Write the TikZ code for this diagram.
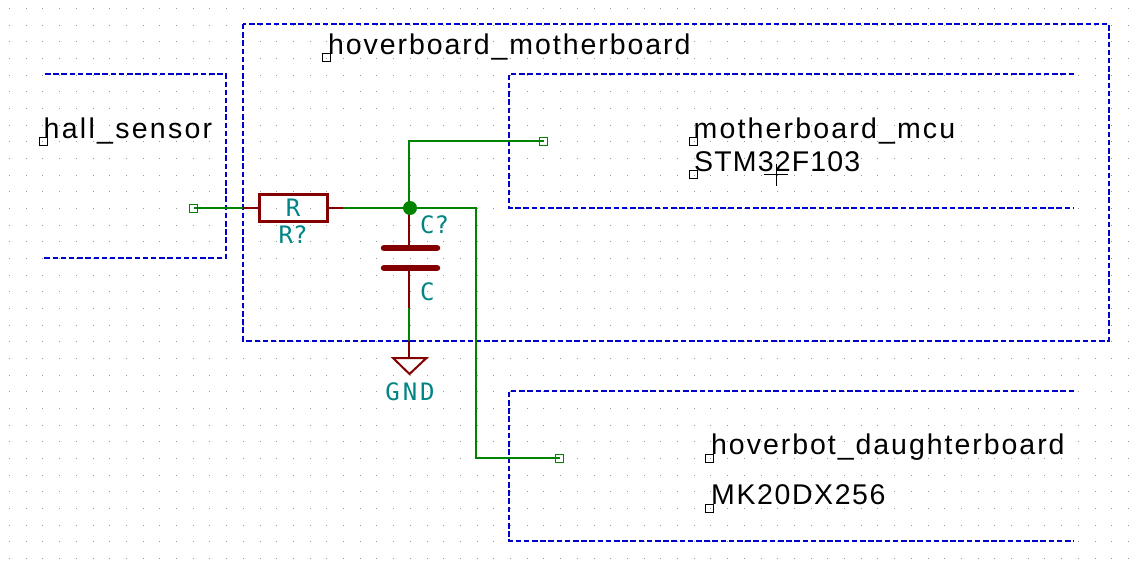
\documentclass[tikz,border=0pt]{standalone}
\usepackage{fontspec}
\newfontfamily\kisheetfont{Liberation Sans}
\newfontfamily\kifont{DejaVu Sans Mono}
\newfontfamily\kigndfont[LetterSpace=12]{DejaVu Sans Mono}
\newcommand{\sheetspaced}[2]{\addfontfeature{LetterSpace=#1}#2}
\definecolor{wirecol}{RGB}{0,132,0}
\definecolor{compcol}{RGB}{132,0,0}
\definecolor{sheetcol}{RGB}{0,0,200}
\definecolor{labcol}{RGB}{0,132,132}
\definecolor{dotcol}{RGB}{150,150,150}
\tikzset{
  sheetline/.style={draw=sheetcol,line width=2pt,dash pattern=on 5.5pt off 2.7pt},
  wire/.style={draw=wirecol,line width=2pt},
  compline/.style={draw=compcol,line width=2pt},
  pinbox/.style={draw=wirecol,line width=1pt,fill=white,minimum size=8pt,inner sep=0pt,rectangle},
  anchorbox/.style={draw=black,line width=1pt,minimum size=8pt,inner sep=0pt,rectangle},
  sheettext/.style={inner sep=0pt,anchor=base west,font=\kisheetfont\fontsize{28.5}{30}\selectfont,text=black},
  reflabel/.style={inner sep=0pt,font=\kifont\fontsize{24}{26}\selectfont,text=labcol},
  griddot/.style={fill=dotcol,draw=none}
}
\begin{document}
\begin{tikzpicture}[x=1pt,y=-1pt]
\useasboundingbox (0,0) rectangle (1145,567);
\fill[white] (0,0) rectangle (1145,567);
% grid
\foreach \i in {0,...,68}{
  \foreach \j in {0,...,33}{
    \fill[griddot] ({9+16.7*\i},{8+16.67*\j}) rectangle ++(1,1);
  }
}
% sheets
\draw[sheetline] (45,74) -- (226,74) -- (226,258) -- (42,258);
\draw[sheetline] (243,24) rectangle (1109,340.5);
\draw[sheetline] (1074,74) -- (509,74) -- (509,208) -- (1074,208);
\draw[sheetline] (1074,391) -- (509,391) -- (509,541) -- (1074,541);
% anchors and sheet texts
\node[anchorbox] (a1) at (43.5,141) {};
\node[anchorbox] (a2) at (326.5,58) {};
\node[anchorbox] (a3) at (693.5,141) {};
\node[anchorbox] (a4) at (693.5,174) {};
\node[anchorbox] (a5) at (709.5,458) {};
\node[anchorbox] (a6) at (709.5,508) {};
\node[sheettext] (t1) at (43.5,138.7) {\sheetspaced{8}{hall\_sensor}};
\node[sheettext] (t2) at (328,54.7) {\sheetspaced{6.8}{hoverboard\_motherboard}};
\node[sheettext] (t3) at (693.5,138.7) {\sheetspaced{7.6}{motherboard\_mcu}};
\node[sheettext] (t4) at (694,171.7) {\sheetspaced{4}{STM32F103}};
\node[sheettext] (t5) at (711,454.7) {\sheetspaced{6.9}{hoverbot\_daughterboard}};
\node[sheettext] (t6) at (711,504.7) {\sheetspaced{5.6}{MK20DX256}};
% connection points
\coordinate (rl) at (259,208);
\coordinate (rr) at (327,208);
\coordinate (rlw) at (243,208);
\coordinate (rrw) at (343,208);
\coordinate (cup) at (409,248);
\coordinate (cdn) at (409,268);
\coordinate (cw) at (409,308);
\coordinate (gw) at (409,341);
\coordinate (gt) at (409,358);
\coordinate (jt) at (409,208);
\coordinate (c1) at (409,141);
\coordinate (c2) at (476,208);
\coordinate (c3) at (476,458);
% component leads
\draw[compline] (rlw) -- (rl);
\draw[compline] (rr) -- (rrw);
\draw[compline] (jt) -- (cup);
\draw[compline] (cdn) -- (cw);
\draw[compline] (gw) -- (gt);
% pins
\node[pinbox] (p1) at (193.5,208) {};
\node[pinbox] (p2) at (543.5,141) {};
\node[pinbox] (p3) at (559.5,458) {};
\node[circle,fill=wirecol,minimum size=14pt,inner sep=0pt] (j) at (410,208) {};
% wires
\draw[wire] (p1.center) -- (rlw);
\draw[wire] (rrw) -- (j.center);
\draw[wire] (jt) -- (c1) -- (p2.center);
\draw[wire] (j.center) -- (c2) -- (c3) -- (p3.center);
\draw[wire] (cw) -- (gw);
% resistor
\node[draw=compcol,line width=3pt,minimum width=68pt,minimum height=27pt,inner sep=0pt,rectangle] (res) at (293,207.5) {};
% capacitor
\draw[compcol,line width=6.5pt,line cap=round] (384,248) -- (437,248);
\draw[compcol,line width=6.5pt,line cap=round] (384,268) -- (437,268);
% ground
\draw[compline,line join=miter] (393,358) -- (426.5,358) -- (409.5,374) -- cycle;
% labels
\node[reflabel] (lr) at (293,208) {R};
\node[reflabel] (lr2) at (293,235) {R?};
\node[reflabel,anchor=west] (lc) at (420,225) {C?};
\node[reflabel,anchor=west] (lc2) at (420,292) {C};
\node[inner sep=0pt,font=\kigndfont\fontsize{24}{26}\selectfont,text=labcol] (lg) at (410,392) {GND};
% cursor
\draw[black,line width=1pt] (764,174) -- (788,174);
\draw[black,line width=1pt] (776.5,164) -- (776.5,186);
\end{tikzpicture}
\end{document}
